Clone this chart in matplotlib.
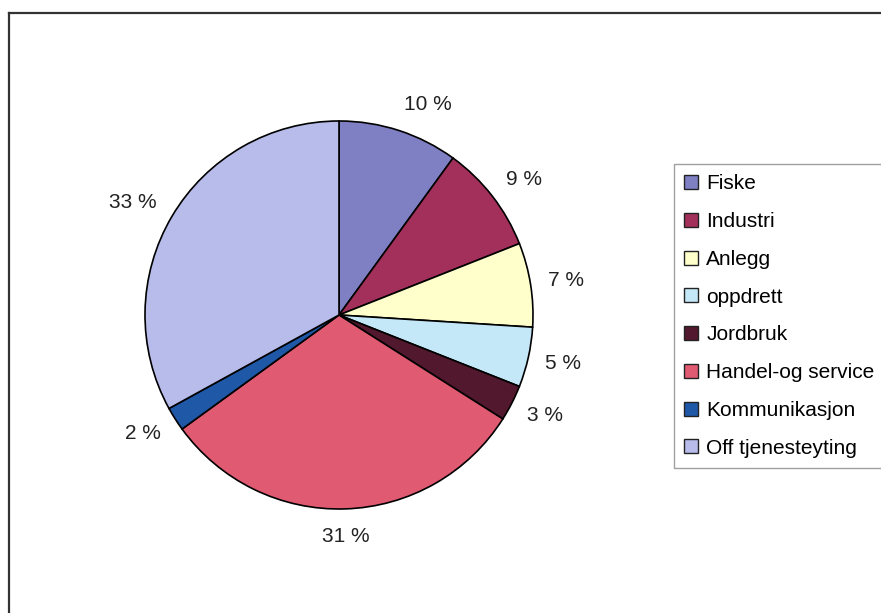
import numpy as np
import matplotlib.pyplot as plt
from matplotlib.patches import Patch
from matplotlib.lines import Line2D

plt.rcParams['font.family'] = ['Liberation Sans', 'DejaVu Sans']

categories = ['Fiske', 'Industri', 'Anlegg', 'oppdrett', 'Jordbruk',
              'Handel-og service', 'Kommunikasjon', 'Off tjenesteyting']
shares = [10, 9, 7, 5, 3, 31, 2, 33]
colors = ['#7F7FC4', '#A3305A', '#FFFFCC', '#C4E8F8', '#52182E',
          '#E05A72', '#2058A8', '#B8BCEA']

W, H = 881, 613
fig = plt.figure(figsize=(W / 100, H / 100), dpi=100)

# outer chart frame (runs off the right and bottom edges)
fig.add_artist(Line2D([9 / W, 1.01], [1 - 13 / H, 1 - 13 / H], color='#333333', lw=1.6))
fig.add_artist(Line2D([9 / W, 9 / W], [1 - 13 / H, -0.01], color='#333333', lw=1.6))

# pie: centre (339, 315) px, radius 194 px
r = 194
lim = 1.3
side = 2 * lim * r
cx, cy = 339, H - 315
ax = fig.add_axes([(cx - side / 2) / W, (cy - side / 2) / H, side / W, side / H])
wedges, texts = ax.pie(shares, colors=colors, startangle=90, counterclock=False,
                       labels=[f'{v} %' for v in shares], labeldistance=1.09,
                       wedgeprops=dict(edgecolor='black', linewidth=1.2),
                       textprops=dict(fontsize=15, color='#222222'))
# Excel-like label placement: label box sits just outside the rim
for w, t in zip(wedges, texts):
    th = np.deg2rad((w.theta1 + w.theta2) / 2)
    t.set_position((1.09 * np.cos(th), 1.14 * np.sin(th)))
    t.set_va('center')
    if abs(np.cos(th)) < 0.15:
        t.set_ha('center')
ax.set_xlim(-lim, lim)
ax.set_ylim(-lim, lim)
ax.set_aspect('equal')

handles = [Patch(facecolor=c, edgecolor='#222222', linewidth=1.0) for c in colors]
leg = fig.legend(handles, categories, loc='upper left',
                 bbox_to_anchor=(674 / W, 1 - 164 / H),
                 fontsize=15, frameon=True, fancybox=False, shadow=False,
                 handlelength=0.65, handleheight=0.65, handletextpad=0.4,
                 labelspacing=0.9, borderpad=0.5, borderaxespad=0)
leg.get_frame().set_edgecolor('#888888')
leg.get_frame().set_linewidth(1.0)

fig.savefig('out.png', dpi=100)
